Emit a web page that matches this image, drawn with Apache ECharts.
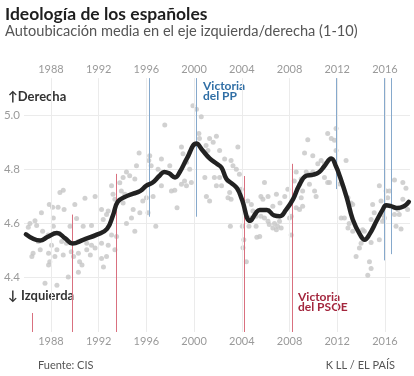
<!DOCTYPE html>
<html>
<head>
<meta charset="utf-8">
<script src="https://cdn.jsdelivr.net/npm/echarts@6/dist/echarts.min.js"></script>
<style>
html,body{margin:0;padding:0;background:#fff;}
#chart{width:414px;height:376px;}
</style>
</head>
<body>
<div id="chart"></div>
<script>
// etiquetas de años (arriba y abajo)
const tickYears = [1988, 1992, 1996, 2000, 2004, 2008, 2012, 2016];

// media móvil (línea negra)
const lineYears = [1985.9, 1987.1, 1987.7, 1988.5, 1989.2, 1989.8, 1990.7, 1991.9, 1992.7, 1993.2,
  1993.6, 1994.3, 1994.9, 1995.5, 1996.0, 1996.5, 1997.1, 1997.5, 1997.9, 1998.4,
  1998.8, 1999.4, 2000.2, 2000.7, 2001.3, 2001.9, 2002.3, 2002.7, 2003.1, 2003.6,
  2004.0, 2004.7, 2005.2, 2005.5, 2006.1, 2006.7, 2007.2, 2007.7, 2008.3, 2008.8,
  2009.4, 2010.0, 2010.5, 2010.9, 2011.5, 2011.9, 2012.2, 2012.8, 2013.3, 2013.9,
  2014.3, 2014.7, 2015.3, 2015.8, 2016.1, 2016.5, 2017.0, 2017.6, 2018.0];
const lineValues = [4.56, 4.537, 4.55, 4.565, 4.545, 4.526, 4.54, 4.56, 4.58, 4.63,
  4.68, 4.70, 4.71, 4.72, 4.74, 4.75, 4.776, 4.79, 4.785, 4.77,
  4.79, 4.84, 4.895, 4.87, 4.84, 4.82, 4.806, 4.765, 4.75, 4.73,
  4.69, 4.61, 4.64, 4.65, 4.65, 4.63, 4.627, 4.65, 4.69, 4.74,
  4.776, 4.78, 4.79, 4.81, 4.84, 4.81, 4.776, 4.695, 4.615, 4.56,
  4.54, 4.56, 4.61, 4.65, 4.667, 4.664, 4.657, 4.664, 4.68];

// encuestas individuales (puntos grises) [año, media]
const dots1980s = [[1989.03,4.723],[1988.75,4.714],[1987.86,4.67],[1988.14,4.66],[1988.6,4.66],[1989.1,4.652],
  [1987.2,4.64],[1988.2,4.62],[1986.24,4.60],[1986.66,4.61],[1986.8,4.593],[1986.1,4.586],[1987.3,4.571],
  [1988.2,4.59],[1989.6,4.59],[1986.94,4.534],[1987.77,4.558],[1988.9,4.534],[1988.05,4.52],[1989.3,4.527],
  [1986.5,4.49],[1986.4,4.478],[1987.1,4.503],[1987.8,4.49],[1988.5,4.503],[1989.03,4.484],[1988.33,4.478],
  [1989.7,4.496],[1987.9,4.459],[1987.8,4.447],[1989.9,4.478],[1989.45,4.403],[1987.5,4.38],[1988.5,4.372]];
const dots1990s = [[1990.0,4.67],[1990.85,4.693],[1991.7,4.70],[1990.15,4.618],[1990.7,4.59],[1991.4,4.593],
  [1990.3,4.534],[1991.0,4.527],[1991.4,4.52],[1990.3,4.49],[1991.0,4.503],[1991.3,4.484],[1991.7,4.51],
  [1990.4,4.459],[1990.6,4.447],[1990.3,4.42],
  [1997.54,4.963],[1995.39,4.86],[1996.28,4.85],[1996.2,4.832],[1995.17,4.813],[1996.4,4.813],[1997.26,4.838],
  [1997.96,4.813],[1996.98,4.80],[1994.33,4.79],[1994.6,4.776],[1995.03,4.764],[1994.05,4.77],[1993.77,4.75],
  [1993.08,4.739],[1993.2,4.708],[1993.36,4.689],[1992.8,4.646],[1993.9,4.72],[1994.2,4.708],[1994.05,4.676],
  [1995.7,4.683],[1996.0,4.695],[1996.56,4.70],[1996.14,4.64],[1997.26,4.739],[1998.1,4.72],[1998.38,4.723],
  [1998.57,4.658],[1994.89,4.652],[1994.75,4.62],[1995.45,4.64],[1994.33,4.60],[1995.03,4.571],[1996.79,4.59],
  [1992.24,4.652],[1992.38,4.615],[1992.66,4.633],[1993.08,4.558],[1993.5,4.552],[1993.36,4.503],[1992.24,4.527],
  [1992.8,4.52],[1992.24,4.471],[1992.66,4.478],[1992.4,4.44],
  [1998.94,4.882],[1999.07,4.857],[1999.63,4.863],[1999.36,4.826],[1999.9,5.034],[1999.63,4.80],[1999.2,4.757],
  [1999.36,4.739],[1998.94,4.745],[1999.77,4.751]];
const dots2000s = [[2000.2,5.021],[2000.6,4.994],[2000.4,4.932],[2000.45,4.913],[2001.3,4.913],[2001.6,4.90],
  [2001.87,4.922],[2001.0,4.888],[2001.16,4.869],[2002.14,4.869],[2003.67,4.882],[2002.56,4.838],[2003.1,4.832],
  [2003.26,4.813],[2003.54,4.80],[2003.8,4.782],[2000.9,4.77],[2001.7,4.77],[2002.14,4.77],[2001.87,4.739],
  [2002.3,4.739],[2002.84,4.757],[2002.98,4.714],[2003.1,4.689],[2002.84,4.695],[2001.03,4.70],[2001.3,4.683],
  [2003.96,4.726],[2004.5,4.683],[2004.8,4.67],[2004.93,4.646],[2004.65,4.62],[2005.2,4.627],[2003.04,4.59],
  [2004.04,4.59],[2004.6,4.59],[2005.2,4.59],[2005.26,4.549],[2004.17,4.54],[2004.1,4.511],[2004.38,4.459],
  [2005.9,4.751],[2005.6,4.70],[2006.2,4.70],[2005.77,4.689],[2006.9,4.708],[2007.6,4.70],[2007.2,4.676],
  [2006.6,4.664],[2007.86,4.726],[2005.6,4.627],[2005.9,4.62],[2006.2,4.608],[2006.3,4.596],[2006.74,4.60],
  [2007.0,4.59],[2007.16,4.608],[2006.6,4.583],[2006.9,4.577],[2007.3,4.583],[2008.0,4.62],[2008.14,4.627],
  [2008.14,4.558],[2005.5,4.552],
  [2009.53,4.909],[2009.26,4.86],[2009.95,4.85],[2008.56,4.79],[2009.4,4.79],[2009.67,4.782],[2009.95,4.79],
  [2008.4,4.757],[2008.98,4.764],[2008.84,4.745],[2009.67,4.745],[2009.1,4.72],[2008.98,4.695],[2008.56,4.658],
  [2009.1,4.664],[2008.84,4.652]];
const dots2010s = [[2011.2,4.932],[2011.9,4.95],[2011.5,4.913],[2011.77,4.907],[2011.9,4.869],[2010.65,4.832],
  [2010.93,4.82],[2010.37,4.82],[2010.93,4.77],[2011.2,4.751],[2011.35,4.751],[2010.1,4.72],[2010.23,4.70],
  [2012.74,4.832],[2012.2,4.746],[2012.9,4.695],[2013.16,4.676],[2013.3,4.67],[2012.33,4.62],[2012.6,4.62],
  [2013.0,4.60],[2012.9,4.583],[2013.3,4.571],[2014.13,4.577],[2014.27,4.571],[2014.0,4.527],[2013.86,4.51],
  [2013.58,4.478],[2014.7,4.459],[2014.84,4.434],[2014.56,4.409],[2014.84,4.53],[2015.53,4.54],[2014.84,4.615],
  [2014.97,4.67],[2015.1,4.64],[2015.53,4.739],[2015.67,4.683],[2016.1,4.72],[2016.37,4.72],[2016.23,4.695],
  [2015.8,4.633],[2015.95,4.62],[2015.8,4.608],[2016.8,4.76],[2017.5,4.751],[2017.76,4.73],[2016.8,4.633],
  [2017.2,4.633],[2017.08,4.652],[2017.5,4.689],[2017.9,4.652],[2016.93,4.59],[2017.35,4.58]];

// elecciones generales
const psoeWins = [1986.46, 1989.82, 1993.45, 2004.2, 2008.2];
const psoeLineTop = [4.27, 4.633, 4.783, 4.775, 4.82];
const ppWins = [1996.2, 2000.2, 2011.89, 2015.97, 2016.49];
const ppLineBottom = [4.625, 4.625, 4.727, 4.464, 4.487];

const FONT = 'Lato, "Noto Sans", sans-serif';
const GUIDE_TOP = 5.136, GUIDE_BOTTOM = 4.2;  // extremos verticales de las guías
const RED = '#d9707f', BLUE = '#86a9cc';

const chart = echarts.init(document.getElementById('chart'));

function vline(x, y1, y2, color) {
  return [{ coord: [x, y1], lineStyle: { color: color, width: 1, type: 'solid' } }, { coord: [x, y2] }];
}

let guides = [];
tickYears.forEach(function (y) { guides.push(vline(y, GUIDE_TOP, GUIDE_BOTTOM, '#ebebeb')); });
let elections = [];
psoeWins.forEach(function (y, i) { elections.push(vline(y, psoeLineTop[i], GUIDE_BOTTOM, RED)); });
ppWins.forEach(function (y, i) { elections.push(vline(y, GUIDE_TOP, ppLineBottom[i], BLUE)); });

const xBase = {
  type: 'value', min: 1985.74, max: 2018.1,
  axisLine: { show: false }, axisTick: { show: false }, splitLine: { show: false },
  axisLabel: {
    customValues: tickYears, color: '#9a9a9a', fontSize: 11, fontFamily: FONT,
    formatter: function (v) { return String(Math.round(v)); }
  }
};

let option = {
  animation: false,
  textStyle: { fontFamily: FONT },
  grid: { left: 24, right: 4, top: 60.75, bottom: 44 },
  xAxis: [
    Object.assign({}, xBase, { position: 'bottom', axisLabel: Object.assign({}, xBase.axisLabel, { margin: 4 }) }),
    Object.assign({}, xBase, { position: 'top', offset: -19, axisLabel: Object.assign({}, xBase.axisLabel, { margin: 5 }) })
  ],
  yAxis: {
    type: 'value', min: 4.2, max: 5.2, interval: 0.2,
    axisLine: { show: false }, axisTick: { show: false },
    splitLine: { show: true, showMinLine: false, showMaxLine: false, lineStyle: { color: '#ebebeb', width: 1 } },
    axisLabel: {
      margin: 4, color: '#9a9a9a', fontSize: 11.5, fontFamily: FONT,
      formatter: function (v) { return (v > 4.3 && v < 5.1) ? v.toFixed(1) : ''; }
    }
  },
  series: [
    {
      type: 'line', data: [], silent: true, clip: false, z: 1,
      markLine: { silent: true, symbol: ['none', 'none'], label: { show: false }, data: guides }
    },
    {
      type: 'line', data: [], silent: true, clip: false, z: 2,
      markLine: { silent: true, symbol: ['none', 'none'], label: { show: false }, data: elections }
    },
    {
      type: 'scatter', silent: true, clip: false, z: 3,
      data: dots1980s.concat(dots1990s, dots2000s, dots2010s),
      symbolSize: 5, itemStyle: { color: '#c6c6c6' }
    },
    {
      type: 'line', silent: true, clip: false, z: 5,
      data: lineYears.map(function (y, i) { return [y, lineValues[i]]; }),
      smooth: 0.45, showSymbol: false,
      lineStyle: { color: '#222', width: 4.5, cap: 'round', join: 'round' }
    }
  ],
  graphic: [
    { type: 'text', left: 5, top: 5, style: { text: 'Ideología de los españoles', fontSize: 17.5, fontWeight: 'bold', fill: '#1e1e1e', fontFamily: FONT } },
    { type: 'text', left: 5, top: 24, style: { text: 'Autoubicación media en el eje izquierda/derecha (1-10)', fontSize: 14.6, fill: '#555', fontFamily: FONT } },
    { type: 'text', left: 8, top: 90, style: { text: '↑Derecha', fontSize: 13, fontWeight: 'bold', fill: '#333', fontFamily: FONT } },
    { type: 'text', left: 8, top: 289, style: { text: '↓ Izquierda', fontSize: 13, fontWeight: 'bold', fill: '#333', fontFamily: FONT } },
    { type: 'text', left: 203, top: 80, style: { text: 'Victoria\ndel PP', fontSize: 12, fontWeight: 'bold', lineHeight: 10, fill: '#2f6ea5', fontFamily: FONT } },
    { type: 'text', left: 298, top: 291, style: { text: 'Victoria\ndel PSOE', fontSize: 12, fontWeight: 'bold', lineHeight: 10, fill: '#a3263d', fontFamily: FONT } },
    { type: 'text', left: 38, top: 360, style: { text: 'Fuente: CIS', fontSize: 11, fill: '#555', fontFamily: FONT } },
    { type: 'text', right: 19, top: 360, style: { text: 'K LL / EL PAÍS', fontSize: 11, fill: '#555', fontFamily: FONT } }
  ]
};

chart.setOption(option);
</script>
</body>
</html>
